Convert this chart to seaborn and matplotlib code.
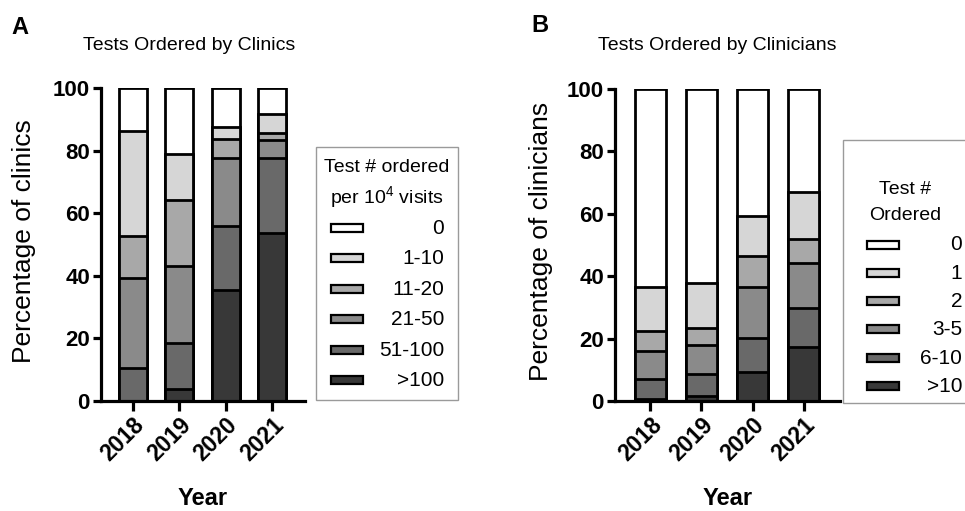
import numpy as np
import pandas as pd
import matplotlib
matplotlib.use("Agg")
import matplotlib.pyplot as plt
from matplotlib.patches import Rectangle
import seaborn as sns

# --- Data (percent) ---
years = ["2018", "2019", "2020", "2021"]

clinic_cats = [">100", "51-100", "21-50", "11-20", "1-10", "0"]
clinic_gt100 = [0.0, 3.7, 35.6, 53.6]
clinic_51_100 = [10.6, 14.7, 20.3, 24.1]
clinic_21_50 = [28.8, 24.6, 21.7, 5.8]
clinic_11_20 = [13.4, 21.2, 6.1, 2.2]
clinic_1_10 = [33.4, 14.7, 3.8, 5.9]
clinic_0 = [13.8, 21.1, 12.5, 8.4]

clinician_cats = [">10", "6-10", "3-5", "2", "1", "0"]
clinician_gt10 = [0.5, 1.6, 9.2, 17.4]
clinician_6_10 = [6.7, 6.9, 11.1, 12.4]
clinician_3_5 = [8.8, 9.6, 16.3, 14.5]
clinician_2 = [6.3, 5.4, 9.9, 7.5]
clinician_1 = [14.1, 14.2, 12.8, 15.1]
clinician_0 = [63.6, 62.3, 40.7, 33.1]

greys = ["#383838", "#696969", "#8a8a8a", "#a8a8a8", "#d6d6d6", "#ffffff"]

sns.set_theme(style="white")
plt.rcParams["font.family"] = ["Liberation Sans", "DejaVu Sans"]
plt.rcParams["text.color"] = "black"
plt.rcParams["axes.labelcolor"] = "black"
plt.rcParams["xtick.color"] = "black"
plt.rcParams["ytick.color"] = "black"

W, H = 965, 511
fig = plt.figure(figsize=(W / 100, H / 100), dpi=100)


def px_ax(x0, y0, x1, y1):
    # pixel box (top-left origin) -> figure axes
    return fig.add_axes([x0 / W, 1 - y1 / H, (x1 - x0) / W, (y1 - y0) / H])


def fx(x):
    return x / W


def fy(y):
    return 1 - y / H


def long_table(cats, series):
    rows = []
    for cat, vals in zip(cats, series):
        for yr, v in zip(years, vals):
            rows.append({"Year": yr, "cat": cat, "value": v})
    df = pd.DataFrame(rows)
    df["cum"] = df.groupby("Year")["value"].cumsum()
    return df


def stacked(ax, df, cats, ylabel):
    # draw from the top layer down so lower layers cover the upper ones
    for cat, col in reversed(list(zip(cats, greys))):
        sub = df[df["cat"] == cat]
        sns.barplot(data=sub, x="Year", y="cum", order=years, color=col,
                    saturation=1, width=0.6, edgecolor="black", linewidth=2.0,
                    ax=ax, errorbar=None)
    ax.set_ylim(0, 100)
    ax.set_yticks(range(0, 101, 20))
    ax.set_xlim(-0.69, 3.71)
    sns.despine(ax=ax)
    for s in ("left", "bottom"):
        ax.spines[s].set_linewidth(2.3)
        ax.spines[s].set_color("black")
    ax.tick_params(axis="y", length=6, width=2.3, labelsize=16, pad=2,
                   left=True)
    ax.tick_params(axis="x", length=7, width=2.3, labelsize=16.5, pad=2,
                   bottom=True)
    for t in ax.get_yticklabels():
        t.set_fontweight("bold")
    for t in ax.get_xticklabels():
        t.set_fontweight("bold")
        t.set_rotation(45)
        t.set_ha("right")
        t.set_rotation_mode("anchor")
    ax.set_ylabel(ylabel, fontsize=19)
    ax.set_xlabel("Year", fontsize=17, fontweight="bold")


def legend_box(x0, y0, x1, y1, title_lines, cats, rows_y, patch_x, label_x):
    fig.add_artist(Rectangle((fx(x0), fy(y1)), fx(x1 - x0), (y1 - y0) / H,
                             transform=fig.transFigure, facecolor="white",
                             edgecolor="#9a9a9a", linewidth=1.0))
    for txt, ty in title_lines:
        fig.text(fx(txt[1]), fy(ty), txt[0], ha="center", va="center",
                 fontsize=14)
    for cat, col, ry in zip(reversed(cats), reversed(greys), rows_y):
        fig.add_artist(Rectangle((fx(patch_x - 16), fy(ry + 4)), fx(32), 8 / H,
                                 transform=fig.transFigure, facecolor=col,
                                 edgecolor="black", linewidth=1.6))
        fig.text(fx(label_x), fy(ry), cat, ha="right", va="center",
                 fontsize=15)


# Panel A
axA = px_ax(101, 88, 305, 401)
dfA = long_table(clinic_cats, [clinic_gt100, clinic_51_100, clinic_21_50,
                               clinic_11_20, clinic_1_10, clinic_0])
stacked(axA, dfA, clinic_cats, "Percentage of clinics")
axA.yaxis.set_label_coords(-0.32, 0.51)
axA.xaxis.set_label_coords(0.5, -0.275)

# Panel B
axB = px_ax(615, 89, 840, 401)
dfB = long_table(clinician_cats, [clinician_gt10, clinician_6_10, clinician_3_5,
                                  clinician_2, clinician_1, clinician_0])
stacked(axB, dfB, clinician_cats, "Percentage of clinicians")
axB.yaxis.set_label_coords(-0.275, 0.51)
axB.xaxis.set_label_coords(0.5, -0.275)

# Titles and panel letters
fig.text(fx(189), fy(45), "Tests Ordered by Clinics", ha="center", va="center",
         fontsize=14)
fig.text(fx(717), fy(45), "Tests Ordered by Clinicians", ha="center",
         va="center", fontsize=14)
fig.text(fx(11), fy(27), "A", ha="left", va="center", fontsize=17,
         fontweight="bold")
fig.text(fx(531), fy(26), "B", ha="left", va="center", fontsize=17,
         fontweight="bold")

# Legends
legend_box(316, 147, 458, 400,
           [(("Test # ordered", 387), 167),
            (("per $\\mathregular{10^4}$ visits", 387), 197)],
           clinic_cats, [228, 258, 289, 319, 350, 380], 347, 444)
legend_box(843, 140, 990, 403,
           [(("Test #", 905), 190), (("Ordered", 905), 215)],
           clinician_cats, [245, 273, 301, 329, 358, 386], 883, 962)

fig.savefig("out.png", dpi=100)
